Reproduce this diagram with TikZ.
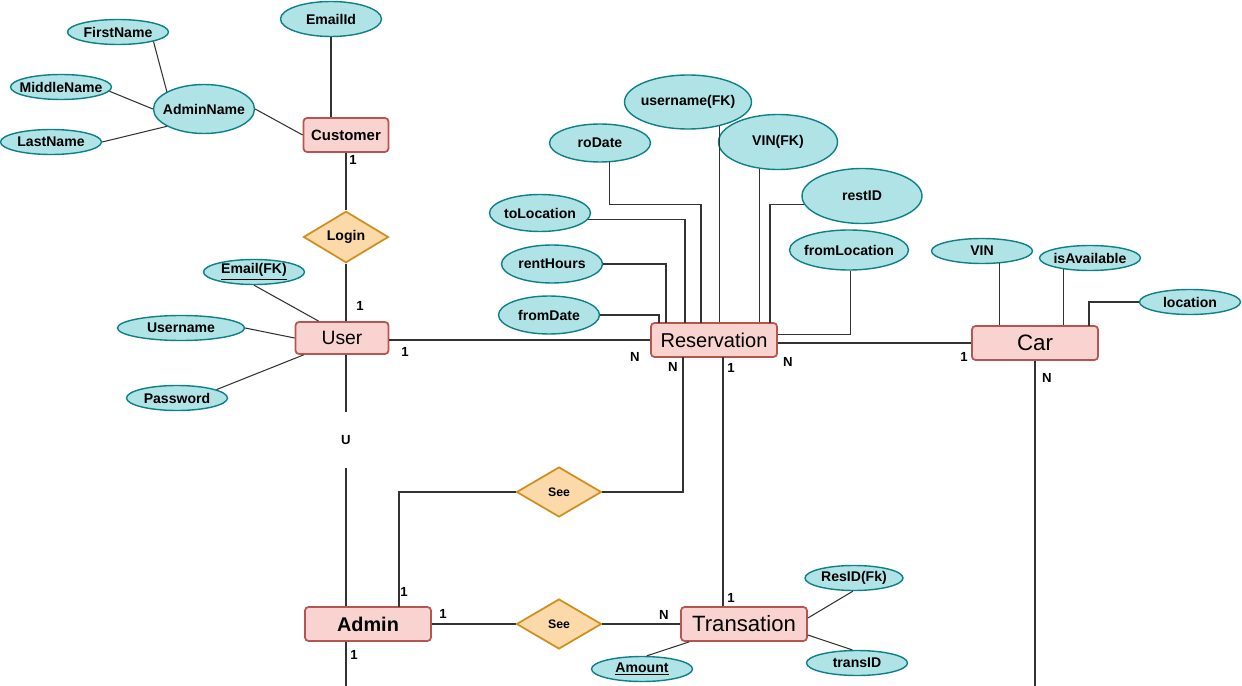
\documentclass[tikz,border=0pt]{standalone}
\usepackage{fontspec}
\setmainfont{Liberation Sans}
\setsansfont{Liberation Sans}
\usetikzlibrary{shapes.geometric,calc}

\definecolor{entfill}{HTML}{F8D3D0}
\definecolor{entline}{HTML}{B85450}
\definecolor{relfill}{HTML}{FBD9A8}
\definecolor{relline}{HTML}{D08F1E}
\definecolor{attfill}{HTML}{B0E3E6}
\definecolor{attline}{HTML}{0E8088}
\definecolor{linecol}{HTML}{333333}

\tikzset{
  entity/.style={draw=entline, fill=entfill, line width=1pt, rounded corners=2pt,
    minimum width=2.52cm, minimum height=0.68cm, inner sep=0pt,
    font=\fontsize{11}{13}\selectfont},
  rel/.style={diamond, draw=relline, fill=relfill, line width=1pt,
    minimum width=1.7cm, minimum height=1cm, inner sep=0pt,
    font=\fontsize{7}{8}\selectfont\bfseries},
  attr/.style={ellipse, draw=attline, fill=attfill, line width=0.8pt,
    minimum width=2.02cm, minimum height=0.5cm, inner xsep=-6pt, inner ysep=0pt,
    font=\fontsize{8}{9}\selectfont\bfseries},
  card/.style={inner sep=0pt, font=\fontsize{7.5}{9}\selectfont\bfseries},
  wire/.style={draw=linecol, line width=0.6pt}
}

\begin{document}
\begin{tikzpicture}[x=0.02cm,y=-0.02cm]
\useasboundingbox (0,0) rectangle (1242,686);

% Customer
\node[entity, minimum width=1.7cm, font=\fontsize{8.5}{10}\selectfont\bfseries] (cust) at (346,135) {Customer};
\node[attr, minimum height=0.7cm] (emailid) at (331,19) {EmailId};
\node[attr, minimum height=0.98cm] (aname) at (204,109) {AdminName};
\node[attr] (fname) at (118,32) {FirstName};
\node[attr] (mname) at (61,87) {MiddleName};
\node[attr] (lname) at (51,142) {LastName};
\node[rel, font=\fontsize{8}{9}\selectfont\bfseries] (login) at (346,237) {Login};

% User
\node[entity, minimum width=1.86cm, minimum height=0.64cm] (user) at (342,338) {User};
\node[attr] (emailfk) at (254,272) {\underline{Email(FK)}};
\node[attr, minimum width=2.54cm] (uname) at (181,328) {Username};
\node[attr] (pwd) at (177,398) {Password};
\node[card, minimum height=1.12cm] (u) at (346,440) {U};

% Reservation
\node[entity, font=\fontsize{11.4}{13}\selectfont] (res) at (714,340) {Reservation};
\node[attr, minimum width=2.54cm, minimum height=1.08cm] (ufk) at (688,102) {username(FK)};
\node[attr, minimum height=0.76cm] (rodate) at (600,143) {roDate};
\node[attr, minimum width=2.38cm, minimum height=1.1cm] (vfk) at (778,142) {VIN(FK)};
\node[attr, minimum width=2.4cm, minimum height=1.1cm] (restid) at (862,196) {restID};
\node[attr, minimum height=0.74cm] (toloc) at (540,213) {toLocation};
\node[attr, minimum width=2.38cm, minimum height=0.8cm] (floc) at (849,250) {fromLocation};
\node[attr, minimum height=0.76cm] (rhours) at (552,264) {rentHours};
\node[attr, minimum height=0.76cm] (fdate) at (549,315) {fromDate};

% Car
\node[entity, font=\fontsize{12.7}{15}\selectfont] (car) at (1035,343) {Car};
\node[attr] (vin) at (982,251) {VIN};
\node[attr] (isav) at (1090,258) {isAvailable};
\node[attr] (loc) at (1190,302) {location};

% Admin, Transation
\node[entity, font=\fontsize{11.3}{13}\selectfont\bfseries] (admin) at (368,624) {Admin};
\node[entity, font=\fontsize{12.6}{15}\selectfont] (trans) at (744,624) {Transation};
\node[rel] (see1) at (559,492) {See};
\node[rel] (see2) at (559,624) {See};
\node[attr, minimum width=1.96cm] (resid) at (854,578) {ResID(Fk)};
\node[attr] (transid) at (857,663) {transID};
\node[attr] (amount) at (642,669) {\underline{Amount}};

\coordinate (tA) at (659,323);
\coordinate (tB) at (666,323);
\coordinate (tC) at (685,323);
\coordinate (tD) at (701,323);
\coordinate (tF) at (770,323);
\coordinate (tG) at (1089,326);
\coordinate (bA) at (683,357);
\coordinate (bB) at (399,607);
\coordinate (bC) at (723,357);
\coordinate (adminEnd) at (346,686);
\coordinate (carEnd) at (1035,686);

% attributes
\draw[wire] (fname.-15) -- (aname.155);
\draw[wire] (mname.-5) -- (aname.west);
\draw[wire] (lname.east) -- (aname.205);
\draw[wire] (aname.east) -- (cust.west);
\draw[wire] (emailid.south) -- (emailid.south |- cust.north);
\draw[wire] (emailfk.south) -- ($(user.north west)+(24,0)$);
\draw[wire] (uname.east) -- (user.west);
\draw[wire] (pwd.12) -- ($(user.south west)+(9,0)$);

\draw[wire] (fdate.east) -| (tA);
\draw[wire] (rhours.east) -| (tB);
\draw[wire] (toloc.-8) -| (tC);
\draw[wire] (rodate.-64) -- ++(0,42) -| (tD);
\draw[wire] (ufk.-38) -- (ufk.-38 |- res.north);
\draw[wire] (vfk.235) -- (vfk.235 |- res.north);
\draw[wire] (restid.188) -| (tF);
\draw[wire] (floc.-85) |- (res.5);

\draw[wire] (vin.-36) -- (vin.-36 |- car.north);
\draw[wire] (isav.203) -- (isav.203 |- car.north);
\draw[wire] (loc.west) -| (tG);

\draw[wire] (resid.265) -- ($(trans.east)+(0,-6)$);
\draw[wire] ($(trans.east)+(0,11)$) -- (transid.110);
\draw[wire] (amount.70) -- ($(trans.south west)+(9,0)$);

% relationships
\draw[wire] (cust) -- (login);
\draw[wire] (login) -- (login.south |- user.north);
\draw[wire] (u.north) -- (u.north |- user.south);
\draw[wire] (u.south) -- (u.south |- admin.north);
\draw[wire] (res.west) -- (res.west -| user.east);
\draw[wire] (car.west) -- (car.west -| res.east);
\draw[wire] (bA) |- (see1.east);
\draw[wire] (see1.west) -| (bB);
\draw[wire] (bC) -- (bC |- trans.north);
\draw[wire] (admin) -- (see2) -- (trans);
\draw[wire] (adminEnd |- admin.south) -- (adminEnd);
\draw[wire] (car.south) -- (carEnd);

% cardinalities
\node[card] (k1) at (353,160) {1};
\node[card] (k2) at (360,306) {1};
\node[card] (k3) at (405,352) {1};
\node[card] (k4) at (635,357) {N};
\node[card] (k5) at (673,367) {N};
\node[card] (k6) at (731,368) {1};
\node[card] (k7) at (788,362) {N};
\node[card] (k8) at (964,357) {1};
\node[card] (k9) at (1047,378) {N};
\node[card] (k10) at (404,592) {1};
\node[card] (k11) at (443,614) {1};
\node[card] (k12) at (664,615) {N};
\node[card] (k13) at (731,598) {1};
\node[card] (k14) at (354,655) {1};
\end{tikzpicture}
\end{document}
